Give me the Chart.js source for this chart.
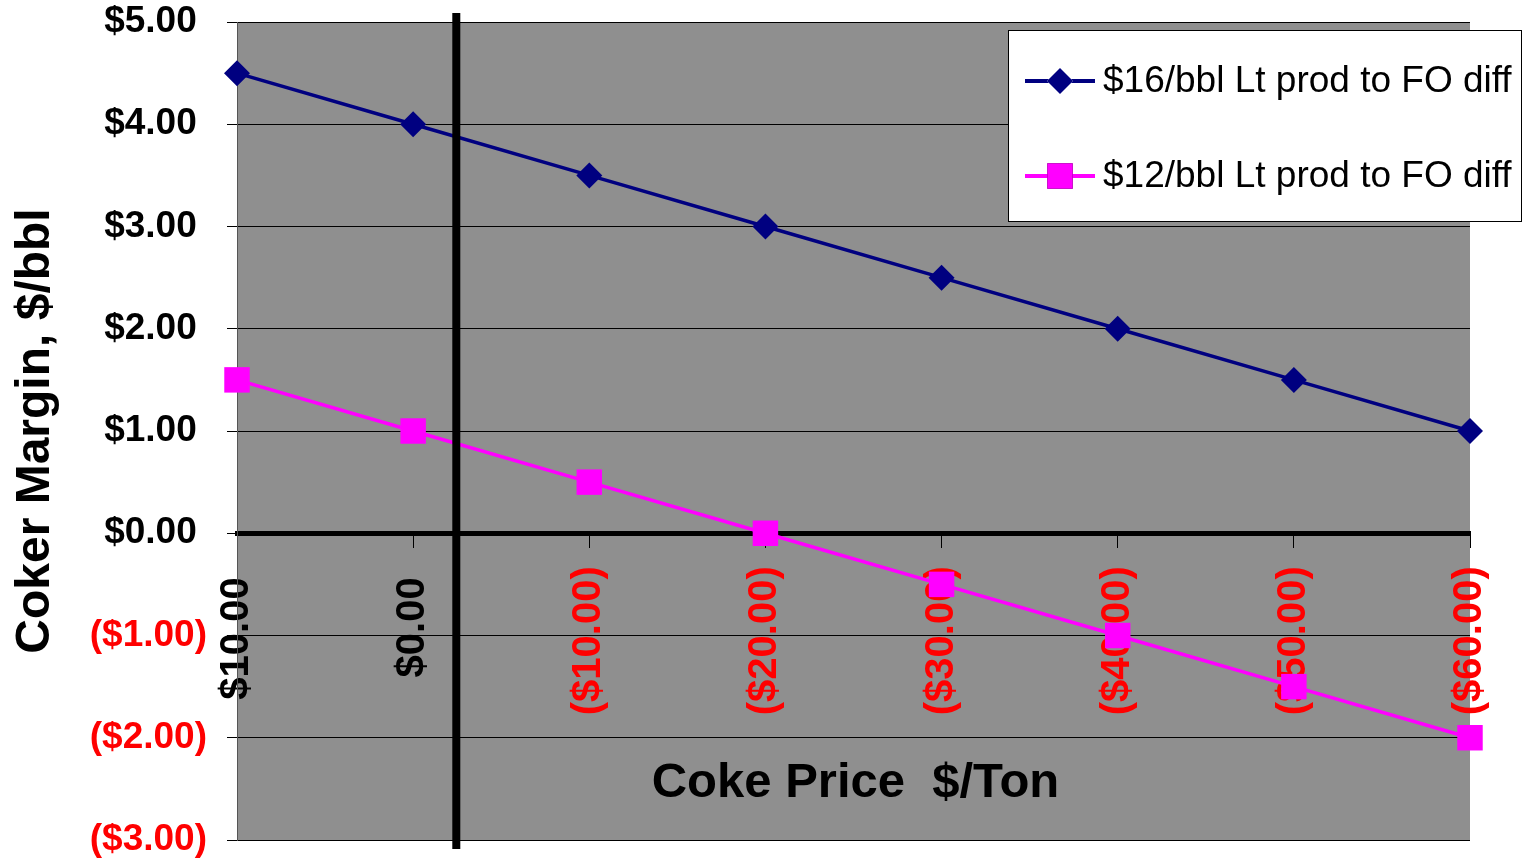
<!DOCTYPE html>
<html>
<head>
<meta charset="utf-8">
<script src="https://cdn.jsdelivr.net/npm/chart.js@4.4.0/dist/chart.umd.min.js"></script>
<style>
    html, body { margin: 0; padding: 0; background: #fff; }
    #wrap { width: 1525px; height: 866px; }
</style>
</head>
<body>
<div id="wrap"><canvas id="cokerChart" width="1525" height="866"></canvas></div>
<script>
// Chart data
const cokePrices = ['$10.00', '$0.00', '($10.00)', '($20.00)', '($30.00)', '($40.00)', '($50.00)', '($60.00)'];
const margin16 = [4.5, 4.0, 3.5, 3.0, 2.5, 2.0, 1.5, 1.0];
const margin12 = [1.5, 1.0, 0.5, 0.0, -0.5, -1.0, -1.5, -2.0];
const yTickValues = [5, 4, 3, 2, 1, 0, -1, -2, -3];
const yTickLabels = ['$5.00', '$4.00', '$3.00', '$2.00', '$1.00', '$0.00', '($1.00)', '($2.00)', '($3.00)'];
const seriesNames = ['$16/bbl Lt prod to FO diff', '$12/bbl Lt prod to FO diff'];
const markerLineX = 1.245; // thick vertical marker, in category units

const FONT = '"Liberation Sans", Arial, sans-serif';

// accounting style: positive values keep room for the closing bracket
function padPositive(label) {
    return label.charAt(0) === '(' ? label : label + '\u00a0';
}

// Gray plot background
const plotBackground = {
    id: 'plotBackground',
    beforeDraw(chart) {
        const { ctx, chartArea: a } = chart;
        ctx.save();
        ctx.fillStyle = '#8f8f8f';
        ctx.fillRect(a.left, a.top, a.right - a.left, a.bottom - a.top);
        ctx.restore();
    }
};

// Vertical marker line, x title and legend box
const overlays = {
    id: 'overlays',
    afterDraw(chart) {
        const { ctx, chartArea: a } = chart;
        const xs = chart.scales.x, ys = chart.scales.y;
        ctx.save();

        // thick vertical line
        const vx = xs.getPixelForValue(markerLineX);
        ctx.strokeStyle = '#000';
        ctx.lineWidth = 8;
        ctx.beginPath();
        ctx.moveTo(vx, a.top - 9);
        ctx.lineTo(vx, a.bottom + 9);
        ctx.stroke();

        // x axis title
        ctx.fillStyle = '#000';
        ctx.font = 'bold 49px ' + FONT;
        ctx.textAlign = 'center';
        ctx.textBaseline = 'middle';
        ctx.fillText('Coke Price  $/Ton', (a.left + a.right) / 2 + 2, ys.getPixelForValue(-2.45));

        // legend
        const bx = 1008, by = 30, bw = 514, bh = 192;
        ctx.fillStyle = '#fff';
        ctx.fillRect(bx, by, bw, bh);
        ctx.strokeStyle = '#000';
        ctx.lineWidth = 1;
        ctx.strokeRect(bx + 0.5, by + 0.5, bw - 1, bh - 1);

        const rows = [by + 51, by + 146];
        chart.data.datasets.forEach((ds, i) => {
            const y = rows[i];
            ctx.strokeStyle = ds.borderColor;
            ctx.lineWidth = 4;
            ctx.beginPath();
            ctx.moveTo(bx + 17, y);
            ctx.lineTo(bx + 87, y);
            ctx.stroke();
            Chart.helpers.drawPoint(ctx, {
                pointStyle: ds.pointStyle,
                radius: ds.pointRadius,
                rotation: 0,
                borderWidth: 0
            }, bx + 52, y);
            ctx.fillStyle = ds.backgroundColor;
            ctx.fill();
            ctx.fillStyle = '#000';
            ctx.font = '37px ' + FONT;
            ctx.textAlign = 'left';
            ctx.textBaseline = 'middle';
            ctx.fillText(ds.label, bx + 95, y + 1);
        });
        ctx.restore();
    }
};

const ctx = document.getElementById('cokerChart').getContext('2d');
const chart = new Chart(ctx, {
    type: 'line',
    data: {
        labels: cokePrices,
        datasets: [
            {
                label: seriesNames[0],
                data: margin16,
                borderColor: '#000080',
                backgroundColor: '#000080',
                borderWidth: 3.5,
                pointStyle: 'rectRot',
                pointRadius: 13,
                pointHoverRadius: 13,
                pointBorderWidth: 0,
                tension: 0
            },
            {
                label: seriesNames[1],
                data: margin12,
                borderColor: '#ff00ff',
                backgroundColor: '#ff00ff',
                borderWidth: 3.5,
                pointStyle: 'rect',
                pointRadius: 18,
                pointHoverRadius: 18,
                pointBorderWidth: 0,
                tension: 0
            }
        ]
    },
    options: {
        responsive: false,
        animation: false,
        layout: {
            padding: { top: 22, right: 55, bottom: 26, left: 0 }
        },
        plugins: {
            legend: { display: false },
            tooltip: { enabled: false }
        },
        scales: {
            x: {
                type: 'category',
                position: { y: 0 },
                offset: false,
                z: 1,
                afterFit(scale) { scale.paddingLeft = 0; scale.paddingRight = 0; },
                border: { display: true, color: '#000', width: 5 },
                grid: {
                    drawOnChartArea: false,
                    drawTicks: true,
                    tickLength: 12,
                    color: '#000',
                    lineWidth: 1
                },
                ticks: {
                    autoSkip: false,
                    minRotation: 90,
                    maxRotation: 90,
                    padding: 21,
                    font: { family: FONT, size: 40, weight: 'bold' },
                    color: c => (String(c.tick.label).charAt(0) === '(' ? '#ff0000' : '#000'),
                    callback: (v, i) => padPositive(cokePrices[i])
                }
            },
            y: {
                type: 'linear',
                min: -3,
                max: 5,
                afterFit(scale) {
                    scale.width = 237;
                    scale.paddingTop = 0;
                    scale.paddingBottom = 0;
                },
                afterBuildTicks(scale) {
                    scale.ticks = yTickValues.map(v => ({ value: v }));
                },
                border: { display: true, color: '#555', width: 1 },
                grid: {
                    color: '#000',
                    lineWidth: 1,
                    drawTicks: true,
                    tickLength: 10
                },
                ticks: {
                    padding: 20,
                    font: { family: FONT, size: 37, weight: 'bold' },
                    color: c => (c.tick.value < 0 ? '#ff0000' : '#000'),
                    callback: v => padPositive(yTickLabels[yTickValues.indexOf(v)])
                },
                title: {
                    display: true,
                    text: 'Coker Margin, $/bbl',
                    color: '#000',
                    font: { family: FONT, size: 48, weight: 'bold', lineHeight: 1.2 },
                    padding: { top: 7, bottom: 0 }
                }
            }
        }
    },
    plugins: [plotBackground, overlays]
});
</script>
</body>
</html>
